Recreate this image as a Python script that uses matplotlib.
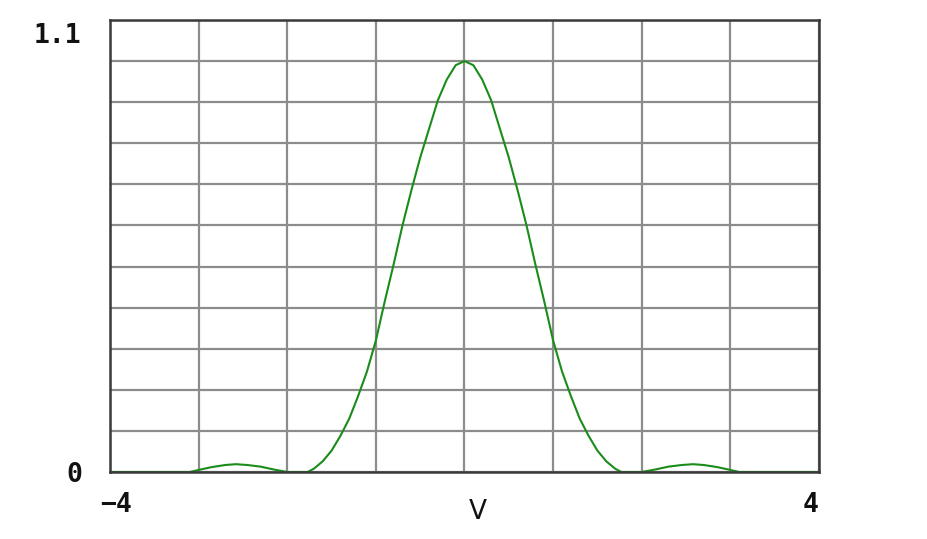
import matplotlib.pyplot as plt

# curve (v, intensity)
v = [-4.0, -3.1, -3.0, -2.85, -2.7, -2.58, -2.45, -2.3, -2.15, -2.0,
     -1.77, -1.7, -1.6, -1.5, -1.4, -1.3, -1.2, -1.1, -1.0, -0.9,
     -0.8, -0.7, -0.6, -0.5, -0.4, -0.3, -0.2, -0.1, 0.0,
     0.1, 0.2, 0.3, 0.4, 0.5, 0.6, 0.7, 0.8, 0.9, 1.0,
     1.1, 1.2, 1.3, 1.4, 1.5, 1.6, 1.7, 1.77,
     2.0, 2.15, 2.3, 2.45, 2.58, 2.7, 2.85, 3.0, 3.1, 4.0]
intensity = [0.0, 0.0, 0.005, 0.012, 0.017, 0.019, 0.017, 0.013, 0.006, 0.0,
             0.0, 0.008, 0.026, 0.052, 0.088, 0.13, 0.185, 0.245, 0.32, 0.415,
             0.505, 0.6, 0.685, 0.765, 0.835, 0.905, 0.955, 0.99, 1.0,
             0.99, 0.955, 0.905, 0.835, 0.765, 0.685, 0.6, 0.505, 0.415, 0.32,
             0.245, 0.185, 0.13, 0.088, 0.052, 0.026, 0.008, 0.0,
             0.0, 0.006, 0.013, 0.017, 0.019, 0.017, 0.012, 0.005, 0.0, 0.0]

x_ticks = [-4, -3, -2, -1, 0, 1, 2, 3, 4]
y_ticks = [0.0, 0.1, 0.2, 0.3, 0.4, 0.5, 0.6, 0.7, 0.8, 0.9, 1.0, 1.1]

fig = plt.figure(figsize=(9.28, 5.39), dpi=100)
ax = fig.add_axes([110/928, 1 - 472/539, 709/928, 452/539])

ax.plot(v, intensity, color='#1a8c1a', lw=1.5, zorder=2)

ax.set_xlim(-4, 4)
ax.set_ylim(0, 1.1)
ax.set_xticks(x_ticks)
ax.set_yticks(y_ticks)
ax.grid(True, color='#8c8c8c', lw=1.6, zorder=1)
ax.set_axisbelow(True)
ax.tick_params(length=0, labelbottom=False, labelleft=False)
for s in ax.spines.values():
    s.set_color('#3a3a3a')
    s.set_linewidth(1.8)
    s.set_zorder(3)

lab = dict(family='DejaVu Sans Mono', weight='bold', fontsize=19, color='#111111')
fig.text(81/928, 1 - 36/539, '1.1', ha='right', va='center', **lab)
fig.text(82/928, 1 - 475/539, '0', ha='right', va='center', **lab)
fig.text(100/928, 1 - 505/539, '\u22124', ha='left', va='center', **lab)
fig.text(819/928, 1 - 505/539, '4', ha='right', va='center', **lab)
fig.text(478/928, 1 - 512/539, 'V', ha='center', va='center',
         family='DejaVu Sans', fontsize=19, color='#111111')

fig.savefig('out.png', dpi=100)
